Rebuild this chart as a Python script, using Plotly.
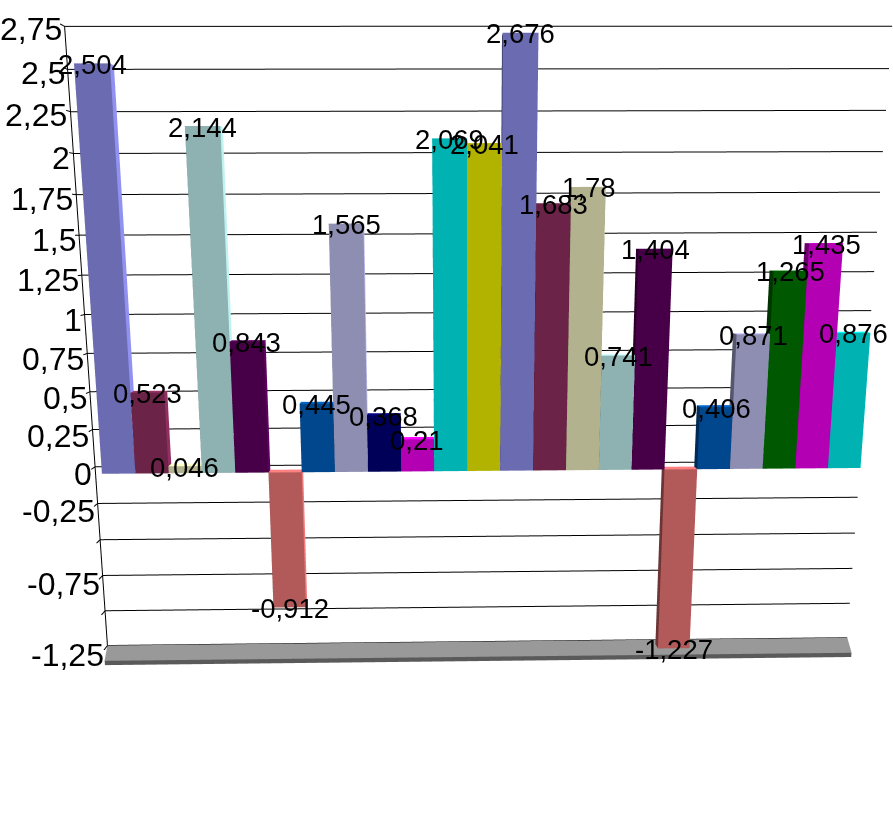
import plotly.graph_objects as go

values = [2.504, 0.523, 0.046, 2.144, 0.843, -0.912, 0.445, 1.565, 0.368, 0.21, 2.069, 2.041,
          2.676, 1.683, 1.78, 0.741, 1.404, -1.227, 0.406, 0.871, 1.265, 1.435, 0.876]
value_labels = ["2,504", "0,523", "0,046", "2,144", "0,843", "-0,912", "0,445", "1,565", "0,368", "0,21", "2,069", "2,041",
                "2,676", "1,683", "1,78", "0,741", "1,404", "-1,227", "0,406", "0,871", "1,265", "1,435", "0,876"]
bar_colors = ["#9999FF", "#993366", "#FFFFCC", "#CCFFFF", "#660066", "#FF8080", "#0066CC", "#CCCCFF", "#000080", "#FF00FF", "#00FFFF", "#FFFF00",
              "#9999FF", "#993366", "#FFFFCC", "#CCFFFF", "#660066", "#FF8080", "#0066CC", "#CCCCFF", "#008000", "#FF00FF", "#00FFFF"]
grid_values = [2.75, 2.5, 2.25, 2, 1.75, 1.5, 1.25, 1, 0.75, 0.5, 0.25, 0, -0.25, -0.5, -0.75, -1, -1.25]
tick_labels = ["2,75", "2,5", "2,25", "2", "1,75", "1,5", "1,25", "1", "0,75", "0,5", "0,25", "0", "-0,25", "", "-0,75", "", "-1,25"]

XMIN, XMAX = 0.99, 24.89
ZMIN, ZMAX = -1.25, 2.75
SLAB = 0.03
BAR_Y = (0.2, 0.5)
TICK_Y = 0.7


def scale(hexc, f):
    r, g, b = (int(hexc[i:i + 2], 16) for i in (1, 3, 5))
    return f"rgb({int(r * f)},{int(g * f)},{int(b * f)})"


vx, vy, vz, ii, jj, kk, fc = [], [], [], [], [], [], []


def add_box(x0, x1, y0, y1, z0, z1, front, top, left, right, inset=(0, 0)):
    n = len(vx)
    for z in (z0, z1):
        for x, y in ((x0 + inset[0], y0), (x1 - inset[1], y0), (x1, y1), (x0, y1)):
            vx.append(x); vy.append(y); vz.append(z)
    faces = [((0, 1, 5), front), ((0, 5, 4), front),
             ((4, 5, 6), top), ((4, 6, 7), top),
             ((0, 3, 7), left), ((0, 7, 4), left),
             ((1, 2, 6), right), ((1, 6, 5), right),
             ((0, 1, 2), left), ((0, 2, 3), left)]
    for (a, b, c), col in faces:
        ii.append(n + a); jj.append(n + b); kk.append(n + c); fc.append(col)


for i, (v, c) in enumerate(zip(values, bar_colors)):
    add_box(i + 1.5, i + 2.5, BAR_Y[0], BAR_Y[1], min(0, v), max(0, v),
            scale(c, 0.7), scale(c, 1.0), scale(c, 0.42), scale(c, 0.95))

add_box(XMIN, XMAX, 0, 1, ZMIN - SLAB, ZMIN, "#5a5a5a", "#999999", "#5a5a5a", "#5a5a5a", inset=(0.28, 0.35))

bars = go.Mesh3d(x=vx, y=vy, z=vz, i=ii, j=jj, k=kk, facecolor=fc, flatshading=True,
                 lighting=dict(ambient=1, diffuse=0, specular=0, roughness=1, fresnel=0),
                 hoverinfo="skip")

gx, gy, gz = [], [], []
for g in grid_values:
    gx += [XMAX, XMIN, XMIN, None]
    gy += [1, 1, TICK_Y, None]
    gz += [g, g, g, None]
gx += [XMIN, XMIN]
gy += [1, 1]
gz += [ZMIN, ZMAX]
grid = go.Scatter3d(x=gx, y=gy, z=gz, mode="lines", line=dict(color="black", width=2), hoverinfo="skip")

annotations = []
for g, t in zip(grid_values, tick_labels):
    if t:
        annotations.append(dict(x=XMIN, y=1, z=g, text=t, showarrow=False, xanchor="right", yanchor="middle",
                                xshift=-1, yshift=-(3 + (ZMAX - g) * 1.5),
                                font=dict(family="Liberation Sans", size=32, color="black")))
for i, (v, t) in enumerate(zip(values, value_labels)):
    annotations.append(dict(x=i + 2, y=BAR_Y[0], z=v, text=t, showarrow=False, xanchor="center", yanchor="middle",
                            yshift=-1, font=dict(family="Liberation Sans", size=27.5, color="black")))

hidden = dict(visible=False, showgrid=False, zeroline=False, showbackground=False, showspikes=False)
fig = go.Figure([bars, grid])
fig.update_layout(
    width=893, height=828, margin=dict(l=0, r=0, t=0, b=0), showlegend=False,
    paper_bgcolor="white",
    scene=dict(
        domain=dict(x=[0, 1], y=[0, 1]),
        dragmode="orbit",
        xaxis=dict(range=[XMIN - 0.1, XMAX + 0.1], **hidden),
        yaxis=dict(range=[-0.02, 1.02], **hidden),
        zaxis=dict(range=[ZMIN - SLAB - 0.01, ZMAX + 0.01], **hidden),
        aspectmode="manual",
        aspectratio=dict(x=0.995, y=0.05, z=0.788),
        camera=dict(projection=dict(type="perspective"),
                    up=dict(x=0.0036, y=0, z=1),
                    center=dict(x=-0.0435, y=0, z=-0.073),
                    eye=dict(x=-0.0645, y=-1.23, z=0.154)),
        annotations=annotations,
    ),
)
fig.write_html("out.html", config={"displayModeBar": False},
               post_script="document.body.style.margin='0';document.body.style.overflow='hidden';")
